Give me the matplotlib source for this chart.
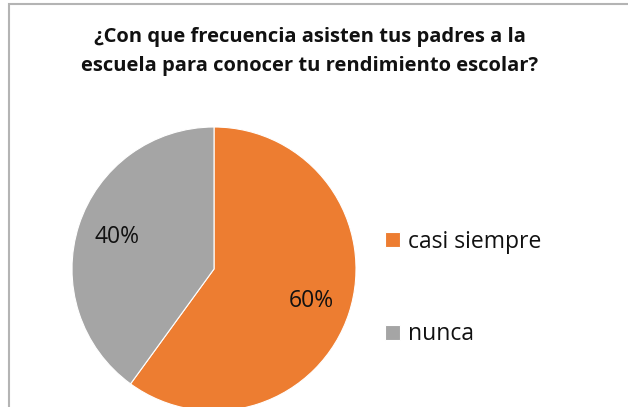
import matplotlib.pyplot as plt
from matplotlib.patches import Rectangle

labels = ["casi siempre", "nunca"]
values = [60, 40]
colors = ["#ED7D31", "#A5A5A5"]
title = "¿Con que frecuencia asisten tus padres a la\nescuela para conocer tu rendimiento escolar?"

W, H = 628, 407
fig = plt.figure(figsize=(W / 100, H / 100), dpi=100)
plt.rcParams['font.family'] = ['Open Sans', 'DejaVu Sans']

# chart border (right and bottom edges fall outside the crop)
fig.patches.append(Rectangle((8.5 / W, -0.1), 1.2, (H - 4) / H + 0.1,
                             transform=fig.transFigure, fill=False,
                             edgecolor="#B4B4B4", linewidth=1.5))

# pie: center (214, 269) px, radius 142 px
r = 142
cx, cy = 214, 269
ax = fig.add_axes([(cx - r) / W, (H - cy - r) / H, 2 * r / W, 2 * r / H])
wedges, _, autotexts = ax.pie(values, colors=colors, startangle=90, counterclock=False,
                              autopct='%1.0f%%', pctdistance=0.72,
                              wedgeprops=dict(edgecolor="white", linewidth=0.8),
                              textprops=dict(fontsize=16.5, color="#111111"))
ax.set_xlim(-1, 1)
ax.set_ylim(-1, 1)
ax.set_aspect('equal')
ax.axis('off')

fig.text(310 / W, 1 - 51.5 / H, title, ha='center', va='center', fontsize=14.5,
         fontweight='bold', color="#111111", linespacing=1.65)

leg = fig.legend(wedges, labels, loc='upper left', bbox_to_anchor=(364 / W, 1 - 209 / H),
                 frameon=False, fontsize=16.5, handlelength=0.65, handleheight=0.65,
                 handletextpad=0.35, labelspacing=3.0)
for t in leg.get_texts():
    t.set_color("#111111")

fig.savefig("out.png", dpi=100)
